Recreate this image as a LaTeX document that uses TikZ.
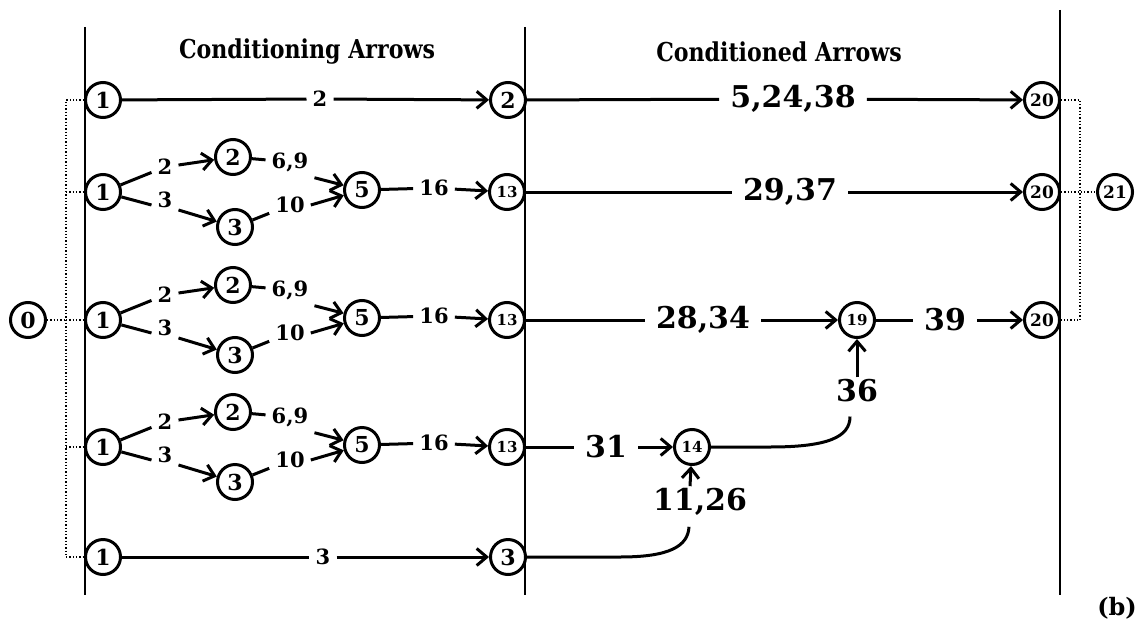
\documentclass[tikz,border=0pt]{standalone}
\usepackage{fontspec}
\setmainfont{DejaVu Serif}
\newfontfamily\hdfont{DejaVu Serif}[FakeStretch=0.85]
\usetikzlibrary{arrows.meta,calc}

\begin{document}
\begin{tikzpicture}[x=1pt,y=-1pt,
  st/.style={circle,draw,line width=3pt,fill=white,minimum size=35pt,inner sep=0pt,
             font=\bfseries\fontsize{22}{22}\selectfont},
  stm/.style={st,font=\bfseries\fontsize{17}{17}\selectfont},
  sts/.style={st,font=\bfseries\fontsize{15}{15}\selectfont},
  lb/.style={inner sep=6pt,font=\bfseries\fontsize{21}{21}\selectfont},
  big/.style={inner sep=11pt,font=\bfseries\fontsize{30}{30}\selectfont},
  bigt/.style={big,inner sep=2pt},
  ed/.style={line width=3pt},
  arr/.style={ed,-{Straight Barb[length=10pt,width=17pt]}},
  dot/.style={line width=1.3pt,dotted},
  col/.style={line width=2pt},
  hd/.style={font=\hdfont\bfseries\fontsize{26}{26}\selectfont}
]
\useasboundingbox (0,0) rectangle (1139,626);

% column rules
\draw[col] (85,27) -- (85,595);
\draw[col] (525,27) -- (525,595);
\draw[col] (1060,10) -- (1060,595);

% column headings
\node[hd] (h1) at (307,52) {Conditioning Arrows};
\node[hd] (h2) at (779,52) {Conditioned Arrows};

% start node and left bracket
\node[st] (z0) at (28,320) {0};
\coordinate (dl1) at (66,100);
\coordinate (dl5) at (66,557);

% row 1
\node[st] (a1) at (103,100) {1};
\node[lb] (p1) at (320,99) {2};
\node[st] (b1) at (508,100) {2};
\node[big] (q1) at (793,99) {5,24,38};
\node[stm] (e1) at (1042,100) {20};
\draw[ed] (a1) -- (p1);
\draw[arr] (p1) -- (b1);
\draw[ed] (b1) -- (q1);
\draw[arr] (q1) -- (e1);

% rows 2--4: conditioning sub-network
\foreach \i/\Y in {2/192,3/320,4/447}{
  \node[st] (one\i) at (103,\Y) {1};
  \node[lb] (lu\i) at (165,{\Y-25}) {2};
  \node[lb] (ld\i) at (165,{\Y+8}) {3};
  \node[st] (two\i) at (233,{\Y-35}) {2};
  \node[st] (thr\i) at (235,{\Y+35}) {3};
  \node[lb] (l69\i) at (290,{\Y-30}) {6,9};
  \node[lb] (l10\i) at (290,{\Y+13}) {10};
  \node[st] (five\i) at (362,{\Y-2}) {5};
  \node[lb] (l16\i) at (434,{\Y-4}) {16};
  \node[sts] (th\i) at (507,\Y) {13};
  \coordinate (dl\i) at (66,\Y);
  \draw[ed] (one\i) -- (lu\i);
  \draw[arr] (lu\i) -- (two\i);
  \draw[ed] (one\i) -- ($(ld\i.west)+(0,5)$);
  \draw[arr] ($(ld\i.east)+(0,10)$) -- (thr\i);
  \draw[ed] (two\i) -- (l69\i);
  \draw[arr] (l69\i.south east) -- (five\i);
  \draw[ed] (thr\i) -- (l10\i);
  \draw[arr] (l10\i.east) -- (five\i);
  \draw[ed] (five\i) -- (l16\i);
  \draw[arr] (l16\i) -- (th\i);
  \draw[dot] (dl\i) -- (one\i);
}

% row 2: conditioned part
\node[big] (q2) at (790,192) {29,37};
\node[stm] (e2) at (1042,192) {20};
\draw[ed] (th2) -- (q2);
\draw[arr] (q2) -- (e2);

% row 3: conditioned part
\node[big] (q3) at (703,320) {28,34};
\node[sts] (n19) at (857,320) {19};
\node[big] (q39) at (945,320) {39};
\node[stm] (e3) at (1042,320) {20};
\draw[ed] (th3) -- (q3);
\draw[arr] (q3) -- (n19);
\draw[ed] (n19) -- (q39);
\draw[arr] (q39) -- (e3);

% row 4: conditioned part
\node[big] (q31) at (606,447) {31};
\node[sts] (n14) at (692,447) {14};
\draw[ed] (th4) -- (q31);
\draw[arr] (q31) -- (n14);

% row 5
\node[st] (a5) at (103,557) {1};
\node[lb] (p5) at (323,557) {3};
\node[st] (c5) at (508,557) {3};
\draw[ed] (a5) -- (p5);
\draw[arr] (p5) -- (c5);

% joining arcs
\node[bigt] (l1126) at (700,502) {11,26};
\node[bigt] (l36) at (857,391) {36};
\draw[ed] (c5) -- (620,557) .. controls (670,557) and (688,546) .. ($(l1126.south)+(-11,9)$);
\draw[arr] ($(l1126.north)+(-10,0)$) -- (n14);
\draw[ed] (n14) -- (770,447) .. controls (828,447) and (850,437) .. ($(l36.south)+(-7,12)$);
\draw[arr] (l36) -- (n19);

% left bracket
\draw[dot] (a1) -- (dl1) -- (dl5) -- (a5);
\draw[dot] (z0) -- (dl3);

% right bracket and end node
\node[stm] (n21) at (1115,192) {21};
\coordinate (dr1) at (1080,100);
\coordinate (dr3) at (1080,320);
\draw[dot] (e1) -- (dr1) -- (dr3) -- (e3);
\draw[dot] (e2) -- (n21);

% panel tag
\node[font=\bfseries\fontsize{24}{24}\selectfont] (tag) at (1117,608) {(b)};
\end{tikzpicture}
\end{document}
